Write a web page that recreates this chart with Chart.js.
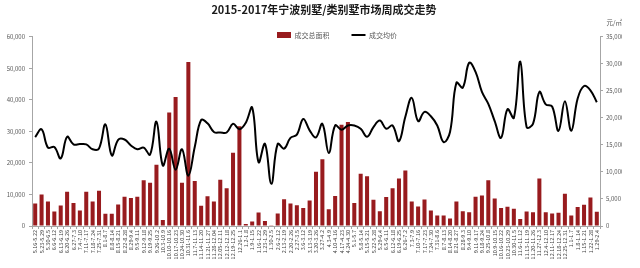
<!DOCTYPE html>
<html>
<head>
<meta charset="utf-8">
<script src="https://cdn.jsdelivr.net/npm/chart.js@4.4.0/dist/chart.umd.min.js"></script>
<style>
  html, body { margin: 0; padding: 0; background: #fff; }
  #wrap { width: 640px; height: 268px; }
</style>
</head>
<body>
<div id="wrap"><canvas id="chart" width="640" height="268"></canvas></div>
<script>
// weekly periods (Mon-Sun), 2016.5 - 2018.2
const weeks = [
  '5.16-5.22', '5.23-5.29', '5.30-6.5', '6.6-6.12', '6.13-6.19', '6.20-6.26', '6.27-7.3', '7.4-7.10',
  '7.11-7.17', '7.18-7.24', '7.25-7.31', '8.1-8.7', '8.8-8.14', '8.15-8.21', '8.22-8.28', '8.29-9.4',
  '9.5-9.11', '9.12-9.18', '9.19-9.25', '9.26-10.2', '10.3-10.9', '10.10-10.16', '10.17-10.23', '10.24-10.30',
  '10.31-11.6', '11.7-11.13', '11.14-11.20', '11.21-11.27', '11.28-12.04', '12.05-12.11', '12.12-12.18', '12.19-12.25',
  '12.26-1.1', '1.2-1.8', '1.9-1.15', '1.16-1.22', '1.23-1.29', '1.30-2.5', '2.6-2.12', '2.13-2.19',
  '2.20-2.26', '2.27-3.5', '3.6-3.12', '3.13-3.19', '3.20-3.26', '3.27-4.2', '4.3-4.9', '4.10-4.16',
  '4.17-4.23', '4.24-4.30', '5.1-5.7', '5.8-5.14', '5.15-5.21', '5.22-5.28', '5.29-6.4', '6.5-6.11',
  '6.12-6.18', '6.19-6.25', '6.26-7.2', '7.3-7.9', '7.10-7.16', '7.17-7.23', '7.24-7.30', '7.31-8.6',
  '8.7-8.13', '8.14-8.20', '8.21-8.27', '8.28-9.3', '9.4-9.10', '9.11-9.17', '9.18-9.24', '9.25-10.8',
  '10.9-10.15', '10.16-10.22', '10.23-10.29', '10.30-11.5', '11.6-11.12', '11.13-11.19', '11.20-11.26', '11.27-12.3',
  '12.4-12.10', '12.11-12.17', '12.18-12.24', '12.25-12.31', '1.1-1.7', '1.8-1.14', '1.15-1.21', '1.22-1.28',
  '1.29-2.4'
];

// 成交总面积 (㎡), left axis
const areaValues = [
  7100, 10000, 7800, 4600, 6500, 10900, 7300, 4900, 10900, 7800, 11200, 3900, 3900, 6800, 9300, 8900,
  9300, 14500, 13700, 19400, 1900, 36000, 40900, 13700, 52000, 14300, 6400, 9400, 7800, 14700, 12000, 23200,
  31600, 600, 1400, 4300, 1600, 200, 4000, 8500, 7100, 6600, 5700, 8100, 17200, 21200, 5300, 9500,
  32100, 33000, 7300, 16600, 15800, 8300, 4700, 9200, 12000, 15100, 17600, 7800, 6200, 8400, 4900, 3300,
  3300, 2400, 7800, 4700, 4400, 9300, 9700, 14500, 8700, 5700, 6100, 5500, 2200, 4600, 4400, 15100,
  4400, 4000, 4200, 10200, 3300, 6000, 6700, 9000, 4500
];

// 成交均价 (元/㎡), right axis
const priceValues = [
  16450, 17900, 14500, 14600, 12500, 16500, 15100, 15150, 15100, 14200, 14350, 18800, 13050, 15950, 16000, 14900,
  14200, 14500, 13200, 19300, 11200, 14300, 10400, 14200, 9300, 14600, 19600, 19000, 17400, 17300, 17300, 18900,
  17900, 19100, 21900, 11800, 15200, 7800, 15200, 14300, 16300, 16900, 19800, 17700, 16400, 18900, 13500, 18600,
  17800, 18600, 18600, 18000, 16500, 18300, 19500, 18000, 18600, 15700, 20200, 23700, 19400, 21100, 20300, 18600,
  15500, 17400, 26500, 25600, 30200, 28500, 24800, 22600, 19400, 16300, 21600, 20000, 30400, 18300, 18900, 24800,
  22500, 22100, 17600, 23100, 17600, 23600, 25900, 25100, 22900
];

const areaTicks = [0, 10000, 20000, 30000, 40000, 50000, 60000];
const priceTicks = [0, 5000, 10000, 15000, 20000, 25000, 30000, 35000];

const fontFamily = '"Noto Sans CJK SC", "Microsoft YaHei", sans-serif';
const axisColor = '#a6a6a6';
const textColor = '#595959';

// title sits a bit right of centre; legend overlaps the top of the plot
const boxPlacer = {
  id: 'boxPlacer',
  beforeLayout(chart) {
    const lg = chart.legend;
    if (!lg._baseFit) {
      lg._baseFit = lg.fit;
      lg.fit = function() {
        this._baseFit();
        this.height = 0;
      };
    }
  },
  afterLayout(chart) {
    const t = chart.titleBlock;
    t.left += 13;
    t.right += 13;

    const lg = chart.legend;
    const pad = lg.options.labels.padding;
    lg.top = 35 - 3.5 - pad;
    lg.bottom = lg.top + pad * 2 + 10;
    const dx = 337 - (lg.left + lg.right) / 2;
    lg.left += dx;
    lg.right += dx;
  }
};

new Chart(document.getElementById('chart').getContext('2d'), {
  type: 'bar',
  data: {
    labels: weeks,
    datasets: [
      {
        type: 'bar',
        label: '成交总面积',
        data: areaValues,
        yAxisID: 'y',
        backgroundColor: '#981b1e',
        borderWidth: 0,
        categoryPercentage: 0.9,
        barPercentage: 0.7,
        pointStyle: 'rect',
        order: 1
      },
      {
        type: 'line',
        label: '成交均价',
        data: priceValues,
        yAxisID: 'y1',
        borderColor: '#000000',
        backgroundColor: '#000000',
        borderWidth: 2,
        pointRadius: 0,
        pointStyle: 'line',
        tension: 0.4,
        fill: false,
        order: 0
      }
    ]
  },
  options: {
    responsive: false,
    animation: false,
    devicePixelRatio: 1,
    layout: {
      padding: { left: 0, right: 18, top: 0, bottom: 0 }
    },
    plugins: {
      title: {
        display: true,
        text: '2015-2017年宁波别墅/类别墅市场周成交走势',
        color: '#1a1a1a',
        font: { family: fontFamily, size: 11, weight: 'bold' },
        padding: { top: 3.6, bottom: 1.6 }
      },
      subtitle: {
        display: true,
        text: '元/㎡',
        align: 'end',
        color: textColor,
        font: { family: fontFamily, size: 6.5 },
        padding: { top: 0, bottom: 10.6 }
      },
      legend: {
        position: 'top',
        align: 'center',
        labels: {
          usePointStyle: true,
          pointStyleWidth: 14,
          boxHeight: 6,
          padding: 22,
          color: textColor,
          font: { family: fontFamily, size: 7 },
          sort: (a, b) => a.datasetIndex - b.datasetIndex
        }
      },
      tooltip: { enabled: false }
    },
    scales: {
      x: {
        grid: { drawOnChartArea: false, drawTicks: true, tickLength: 3, color: axisColor },
        border: { display: true, color: axisColor },
        ticks: {
          autoSkip: false,
          minRotation: 90,
          maxRotation: 90,
          padding: 1,
          color: '#404040',
          font: { family: fontFamily, size: 5.5 }
        },
        afterFit: (scale) => { scale.height = 42; }
      },
      y: {
        position: 'left',
        min: areaTicks[0],
        max: areaTicks[areaTicks.length - 1],
        grid: { drawOnChartArea: false, drawTicks: true, tickLength: 3, color: axisColor },
        border: { display: true, color: axisColor },
        ticks: {
          stepSize: areaTicks[1] - areaTicks[0],
          padding: 4,
          color: textColor,
          font: { family: fontFamily, size: 6 }
        },
        afterFit: (scale) => { scale.width = 32; }
      },
      y1: {
        position: 'right',
        min: priceTicks[0],
        max: priceTicks[priceTicks.length - 1],
        grid: { drawOnChartArea: false, drawTicks: true, tickLength: 3, color: axisColor },
        border: { display: true, color: axisColor },
        ticks: {
          stepSize: priceTicks[1] - priceTicks[0],
          padding: 3,
          color: textColor,
          font: { family: fontFamily, size: 6 }
        },
        afterFit: (scale) => { scale.width = 22; }
      }
    }
  },
  plugins: [boxPlacer]
});
</script>
</body>
</html>
